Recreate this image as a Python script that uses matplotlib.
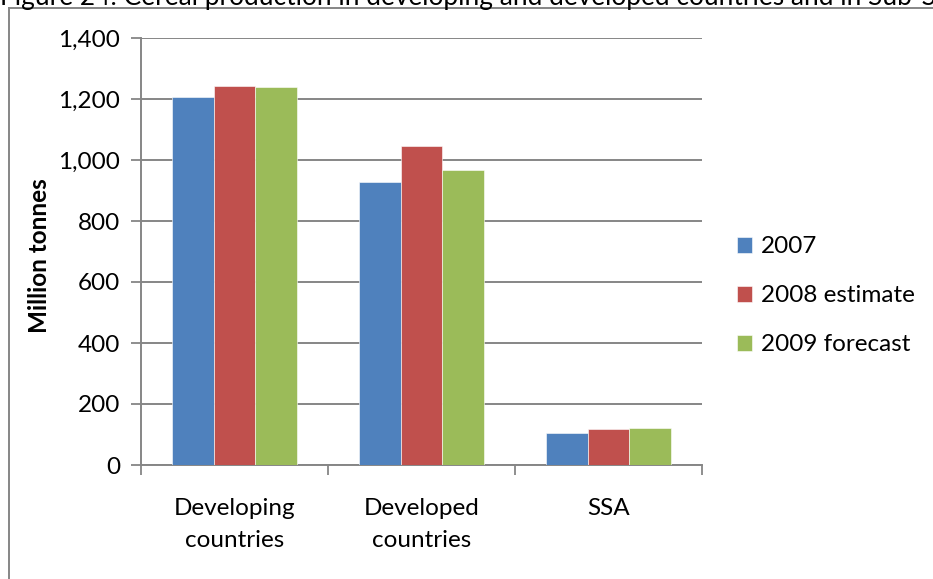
import matplotlib.pyplot as plt
import numpy as np
from matplotlib.lines import Line2D

# Data
categories = ['Developing\ncountries', 'Developed\ncountries', 'SSA']
series_names = ['2007', '2008 estimate', '2009 forecast']
prod_2007 = [1208, 928, 105]
prod_2008 = [1242, 1046, 118]
prod_2009 = [1240, 968, 120]
yticks = [0, 200, 400, 600, 800, 1000, 1200, 1400]

colors = ['#4F81BD', '#C0504D', '#9BBB59']
axis_grey = '#868686'
fs = 17.5

plt.rcParams['font.family'] = ['Lato', 'DejaVu Sans']

fig = plt.figure(figsize=(9.33, 5.79), dpi=100)
ax = fig.add_axes([141 / 933, 1 - 465 / 579, 561 / 933, 427 / 579])

x = np.arange(len(categories))
bw = 1 / 4.5
for i, (vals, name) in enumerate(zip([prod_2007, prod_2008, prod_2009], series_names)):
    ax.bar(x + (i - 1) * bw, vals, width=bw, color=colors[i], label=name,
           edgecolor='white', linewidth=0.4, zorder=3)

ax.set_xlim(-0.5, len(categories) - 0.5)
ax.set_ylim(0, 1400)
ax.set_yticks(yticks)
ax.set_yticklabels([f'{v:,}' for v in yticks], fontsize=fs)
ax.yaxis.grid(True, color=axis_grey, linewidth=1.4, zorder=0)

# category boundaries as tick marks, labels in between
ax.set_xticks(np.arange(len(categories) + 1) - 0.5)
ax.set_xticklabels([])
ax.set_xticks(x, minor=True)
ax.set_xticklabels(categories, minor=True, fontsize=fs, linespacing=1.65)
ax.tick_params(axis='x', which='minor', length=0, pad=24)
ax.tick_params(axis='x', which='major', length=7, width=1.3, color=axis_grey)
ax.tick_params(axis='y', length=7, width=1.3, color=axis_grey, pad=8)

for side in ['top', 'right']:
    ax.spines[side].set_visible(False)
for side in ['left', 'bottom']:
    ax.spines[side].set_color(axis_grey)
    ax.spines[side].set_linewidth(1.4)

ax.set_ylabel('Million tonnes', fontsize=fs, fontweight='bold')
ax.yaxis.set_label_coords(-0.16, 0.49)

leg = ax.legend(loc='center left', bbox_to_anchor=(1.04, 0.396), frameon=False,
                fontsize=fs, handlelength=0.65, handleheight=0.65,
                handletextpad=0.35, labelspacing=1.15, borderpad=0)

# outer chart frame (top and left edges visible)
fig.add_artist(Line2D([9 / 933, 9 / 933], [0, 1 - 8 / 579], color=axis_grey, linewidth=1.4))
fig.add_artist(Line2D([9 / 933, 1], [1 - 8 / 579, 1 - 8 / 579], color=axis_grey, linewidth=1.4))

# caption clipped at the top of the image
fig.text(0.0, 1 - 5 / 579,
         'Figure 24: Cereal production in developing and developed countries and in Sub-Saharan Africa',
         fontsize=18.9, va='baseline', ha='left')

fig.savefig('out.png', dpi=100)
